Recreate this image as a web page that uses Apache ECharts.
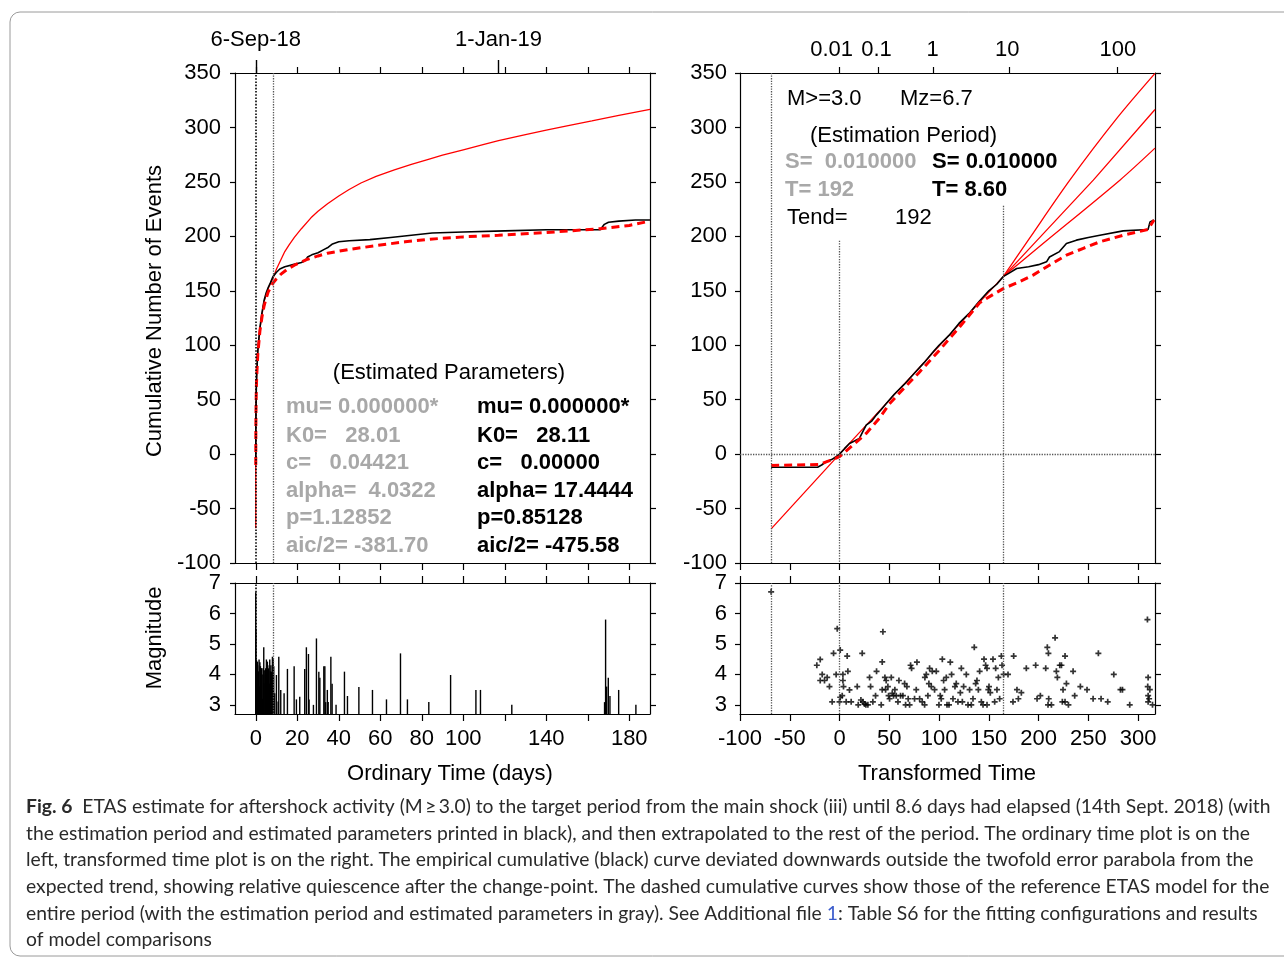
<!DOCTYPE html>
<html>
<head>
<meta charset="utf-8">
<script src="https://cdn.jsdelivr.net/npm/echarts@6/dist/echarts.min.js"></script>
<style>
  html, body { margin: 0; padding: 0; background: #fff; }
  #chart { width: 1284px; height: 960px; }
</style>
</head>
<body>
<div id="chart"></div>
<script>
// ---- axis ticks / labels ----
const ordTicks = [0, 20, 40, 60, 80, 100, 120, 140, 160, 180]
const ordLabels = [0, 20, 40, 60, 80, 100, 140, 180]
const dateTickDays = [0, 117]
const dateTickLabels = ['6-Sep-18', '1-Jan-19']
const trTicks = [-100, -50, 0, 50, 100, 150, 200, 250, 300]
const logTickPos = [0, 39.2, 94, 171, 279.5] // where 0.01..100 days fall on transformed time
const logLabelPos = [-8, 37.2, 93.6, 168.5, 279.7]
const logTickLabels = ['0.01', '0.1', '1', '10', '100']
const magTicks = [3, 4, 5, 6, 7]

// ---- ordinary time (days) cumulative curves ----
const obsOrd = [[0, -10], [0.005, -5], [0.01, 0], [0.05, 25], [0.1, 40], [0.3, 62], [0.5, 75], [1, 95], [1.5, 106], [2, 116], [3, 130], [4, 141], [5, 148], [6, 153], [7, 157], [8.3, 163], [10, 167], [11.6, 170], [14, 172], [18, 174], [22, 176], [24, 178], [25, 181], [27, 183], [30, 185], [33, 188], [35, 190], [37, 193], [40, 195], [45, 196], [55, 197], [65, 199], [75, 201], [85, 203], [100, 204], [120, 205], [140, 206], [166, 206], [168, 211], [170, 213], [175, 214], [183, 215], [190, 215]]
const refOrd = [[0, -10], [0.01, -2], [0.05, 22], [0.1, 38], [0.3, 62], [0.5, 73], [1, 92], [2, 113], [3, 126], [4, 136], [5, 143], [6, 149], [8.3, 157], [10, 161], [12, 165], [15, 169.5], [18.6, 173.5], [25, 179], [30, 182], [34.6, 184.5], [45, 188], [60, 192], [72, 195], [84, 197.4], [100, 199.5], [117, 201], [140, 203.5], [166, 207], [180, 210], [190, 214]]
const modelOrd = [[0, -68], [0.002, -40], [0.01, 0], [0.03, 22], [0.1, 39], [0.3, 65], [1, 94], [2, 115], [4, 140], [6, 152], [8.6, 163], [10, 170], [12, 178], [14, 186], [16, 192], [18.6, 199], [22, 207], [26.6, 217], [30, 223], [34.6, 230], [40, 237], [45, 243], [50.7, 249], [58, 255], [66.8, 261], [75, 266], [82.8, 270.5], [90, 274.5], [100, 279.5], [110, 284.5], [117, 288], [130, 293.5], [140, 297.5], [150, 301.5], [162, 306], [175, 311], [190, 316.5]]

// ---- transformed time cumulative curves ----
const obsTr = [[-68.7, -12], [-22, -12], [-18, -10], [-13.4, -7], [-8, -5], [-3.4, -2.4], [0, 0], [5, 5], [10, 9.8], [15, 12], [20, 14.4], [23, 20], [26.8, 26.6], [32, 30], [36.9, 35.8], [42, 41], [47, 46.5], [55, 55], [65, 64], [75, 74], [85, 84], [95, 95], [100, 100], [110, 109], [120, 120], [130, 129], [140, 140], [150, 150], [158, 156], [164.5, 163], [170, 166], [178, 170.5], [190, 172], [200, 174], [208, 176.6], [211, 181], [221, 186], [228, 193.5], [238, 196.5], [250, 199], [261.6, 201], [285, 205], [310, 206.3], [312, 213.3], [316, 215]]
const refTr = [[-68.7, -10.5], [-20, -9.5], [-10, -6], [0, -2.4], [13.4, 8.3], [26.8, 19], [40, 32.8], [50, 46], [60, 56], [80, 75], [100, 95], [120, 116], [140.8, 139], [155, 147], [164.5, 152], [180, 158], [194.5, 164.4], [210, 173], [228, 182.7], [245, 189], [261.6, 195], [285, 201], [310, 206.3], [316, 215]]
const modelTr = [[-68.7, -68.7], [0, 0], [164.5, 163]]
const upperTr = [[164.5, 163], [190, 197], [231.4, 251.6], [278, 307.6], [317, 349.6]]
const midTr = [[164.5, 163], [255, 251.6], [317, 316.5]]
const lowerTr = [[164.5, 163], [200, 190], [281.7, 251.6], [317, 281]]

// ---- magnitudes ----
const ordEvents = [[0, 6.7], [0.05, 5.5], [0.1, 4.4], [0.2, 3.9], [0.32, 4.47], [0.4, 4.1], [0.6, 3.5], [0.8, 4.42], [0.9, 4.3], [1.1, 3.8], [1.3, 4.1], [1.6, 4.49], [1.8, 3.6], [2.0, 4.4], [2.25, 4.27], [2.5, 3.9], [2.7, 4.2], [2.9, 4.2], [3.1, 4.0], [3.3, 3.2], [3.6, 4.2], [3.86, 4.89], [4.0, 3.7], [4.34, 4.14], [4.6, 4.0], [4.8, 4.2], [5.14, 4.49], [5.3, 3.9], [5.6, 4.42], [5.8, 4.3], [6.1, 4.2], [6.4, 3.6], [6.6, 3.7], [6.75, 4.49], [7.0, 4.1], [7.3, 4.3], [7.55, 4.09], [7.8, 3.9], [8.04, 4.58], [8.2, 4.2], [8.4, 4.5], [8.68, 4.27], [9.16, 3.38], [9.96, 3.98], [10.8, 3.11], [11.1, 4.58], [12.05, 3.49], [13.66, 3.38], [15.27, 4.18], [18.5, 4.27], [19.6, 3.18], [21.2, 3.27], [23.6, 4.18], [24.4, 4.89], [25.4, 4.67], [25.7, 3.18], [27.8, 3.0], [29.25, 5.18], [30.4, 4.09], [30.9, 3.89], [32.8, 4.27], [33.3, 4.27], [33.7, 3.09], [34.5, 3.49], [34.9, 3.09], [36.2, 4.58], [36.8, 3.69], [38.7, 3.0], [42.75, 4.09], [44.2, 3.29], [49.7, 3.59], [56.25, 3.49], [63, 3.18], [69.75, 4.69], [73.1, 3.18], [83.4, 3.09], [93.9, 3.98], [106.1, 3.49], [108.3, 3.49], [123.4, 3.0], [168.1, 3.09], [168.6, 5.8], [169.1, 3.6], [169.9, 3.89], [170.7, 3.29], [174.9, 3.49], [183.2, 3.0]]
const trEvents = [[-68.7, 6.71], [-22.8, 4.3], [-19.4, 4.49], [-17.4, 4.0], [-19.4, 3.8], [-15.1, 3.8], [-12.4, 3.9], [-10.1, 3.6], [-7.4, 3.1], [-6, 4.69], [-2.3, 5.5], [-3.4, 4.0], [0.7, 4.8], [0, 3.1], [0.7, 3.25], [2.7, 3.3], [3.4, 4.0], [4, 3.6], [3.4, 3.8], [7.7, 4.6], [8.4, 4.1], [6.7, 3.1], [10, 3.49], [11.7, 3.1], [17.8, 3.6], [18.8, 3.0], [21.5, 3.16], [22.8, 4.69], [23.5, 3.1], [25.1, 3.03], [26.5, 3.0], [28.5, 3.0], [30.2, 3.9], [31.2, 3.6], [33.5, 3.1], [36.2, 3.3], [37.2, 4.1], [41.9, 3.0], [42.9, 3.5], [42.9, 4.41], [43.6, 5.4], [45.6, 3.9], [46.3, 3.5], [46.9, 3.8], [48.6, 3.6], [49.3, 3.3], [50.3, 3.2], [52, 3.9], [53, 3.38], [54.3, 3.3], [55.6, 3.5], [57, 3.3], [58.7, 3.1], [59.7, 3.8], [61.3, 3.3], [63.7, 3.3], [65.4, 3.7], [66.4, 3.0], [67.7, 3.6], [69, 3.2], [70.4, 3.0], [71.4, 4.3], [72.4, 4.2], [75.4, 3.2], [77.8, 4.4], [77.1, 3.5], [80.5, 3.2], [83.1, 3.1], [85.5, 3.0], [85.8, 3.9], [87.2, 4.0], [88.8, 3.3], [89.8, 3.7], [90.5, 4.2], [92.2, 3.6], [93.2, 4.1], [95.5, 3.5], [97.2, 4.1], [99.9, 3.0], [101.2, 3.3], [102.2, 3.2], [103.3, 4.5], [104.6, 3.8], [105.6, 3.5], [107.3, 3.9], [108, 3.0], [110, 3.0], [111.3, 4.4], [112.6, 4.0], [114, 3.2], [116, 3.6], [117.3, 3.7], [119, 3.1], [121.4, 3.4], [122.4, 4.2], [123.4, 3.1], [124.7, 3.6], [127.4, 4.0], [129.1, 3.0], [130.7, 3.5], [132.4, 3.0], [134.1, 3.2], [135.4, 4.89], [136.8, 3.7], [138.1, 3.8], [139.5, 3.5], [140.8, 4.1], [142.5, 3.1], [144.2, 3.0], [145.2, 4.5], [146.8, 4.3], [148.2, 4.2], [148.2, 3.0], [149.5, 3.5], [150.2, 3.6], [151.5, 3.4], [154.2, 4.5], [155.9, 3.1], [156.9, 4.2], [158.2, 3.5], [159.6, 3.9], [160.9, 3.2], [162.6, 4.6], [163.3, 4.3], [164.9, 4.0], [169.3, 4.0], [174.3, 3.1], [175, 4.6], [178.3, 3.5], [179.7, 3.2], [182.7, 3.4], [187.7, 4.2], [197.1, 4.3], [198.5, 3.2], [201.8, 3.3], [207.2, 4.2], [208.8, 4.89], [209.9, 4.69], [210.2, 3.2], [209.5, 3.0], [212.9, 3.0], [216.6, 5.2], [217.9, 4.1], [218.9, 3.9], [221.3, 4.3], [223, 4.3], [223.9, 3.1], [224.6, 3.5], [226.6, 3.1], [226.6, 4.6], [228, 3.7], [230, 3.0], [234.7, 4.1], [236.3, 3.3], [242, 3.6], [248.7, 3.5], [254.8, 3.2], [260.1, 4.69], [262.8, 3.2], [269.5, 3.1], [275.6, 4.0], [282.3, 3.5], [284.3, 3.5], [291.6, 3.0], [309.4, 5.8], [310.1, 3.9], [309.7, 3.6], [310.1, 3.3], [310.1, 3.1], [311.1, 3.2], [311.8, 3.5], [314.5, 3.0]]

const magMin = 2.7
const FONT = 'Liberation Sans'
const RED = '#ff0000'

const chart = echarts.init(document.getElementById('chart'), null, { renderer: 'canvas' })

function tickAxis (opt) { // axis with box line, outward ticks, no grid lines
  return Object.assign({
    type: 'value',
    axisLine: { show: true, onZero: false, lineStyle: { color: '#000', width: 1.2 } },
    axisTick: { show: true, inside: false, length: 6, lineStyle: { color: '#000', width: 1.2 } },
    axisLabel: { show: false },
    splitLine: { show: false }
  }, opt)
}
const lbl = { color: '#000', fontSize: 22, fontFamily: FONT }

function stem (params, api) {
  const top = api.coord([api.value(0), api.value(1)])
  const base = api.coord([api.value(0), magMin])
  return {
    type: 'line',
    shape: { x1: top[0], y1: top[1], x2: base[0], y2: base[1] },
    style: { stroke: '#000', lineWidth: 1.4 }
  }
}

function vlines (items) { // dotted reference lines
  return {
    symbol: ['none', 'none'],
    silent: true,
    label: { show: false },
    animation: false,
    lineStyle: { type: 'dotted', width: 1.3, color: '#555' },
    data: items
  }
}

function text (x, y, str, opt) {
  return {
    type: 'text',
    x: x,
    y: y,
    silent: true,
    rotation: (opt && opt.rotation) || 0,
    style: Object.assign({
      text: str,
      fontSize: 22,
      fontFamily: FONT,
      fill: '#000',
      align: 'left',
      textAlign: 'left',
      verticalAlign: 'middle',
      textVerticalAlign: 'middle'
    }, opt && opt.style)
  }
}
const gray = { fill: '#a8a8a8', fontWeight: 'bold' }
const bold = { fontWeight: 'bold' }
const center = { align: 'center', textAlign: 'center' }

const capSize = 19.3
const capStyle = { fontSize: capSize, fontFamily: 'Lato', fill: '#2a2a2a', rich: { b: { fontWeight: 'bold', fontSize: capSize, fontFamily: 'Lato', fill: '#2a2a2a' }, l: { fontSize: capSize, fontFamily: 'Lato', fill: '#3a5bcc' } } }
const captionLines = [
  '{b|Fig. 6}  ETAS estimate for aftershock activity (M\u2009\u2265\u20093.0) to the target period from the main shock (iii) until 8.6 days had elapsed (14th Sept. 2018) (with',
  'the estimation period and estimated parameters printed in black), and then extrapolated to the rest of the period. The ordinary time plot is on the',
  'left, transformed time plot is on the right. The empirical cumulative (black) curve deviated downwards outside the twofold error parabola from the',
  'expected trend, showing relative quiescence after the change-point. The dashed cumulative curves show those of the reference ETAS model for the',
  'entire period (with the estimation period and estimated parameters in gray). See Additional file {l|1}: Table S6 for the fitting configurations and results',
  'of model comparisons'
]
const captionY = [807, 834, 860, 887, 914, 940]

const option = {
  animation: false,
  backgroundColor: '#fff',
  grid: [
    { left: 235, top: 73, width: 415, height: 490, outerBoundsMode: 'none' },
    { left: 235, top: 583, width: 415, height: 131, outerBoundsMode: 'none' },
    { left: 740, top: 73, width: 415, height: 490, outerBoundsMode: 'none' },
    { left: 740, top: 583, width: 415, height: 131, outerBoundsMode: 'none' }
  ],
  xAxis: [
    tickAxis({ gridIndex: 0, position: 'bottom', min: -10, max: 190, axisTick: { show: true, length: 7, customValues: ordTicks, lineStyle: { color: '#000', width: 1.2 } } }),
    tickAxis({ gridIndex: 0, position: 'top', min: -10, max: 190, axisTick: { show: true, length: 6, customValues: ordTicks, lineStyle: { color: '#000', width: 1.2 } } }),
    tickAxis({
      gridIndex: 0,
      position: 'top',
      min: -10,
      max: 190,
      axisLine: { show: false, onZero: false },
      axisTick: { show: true, length: 13, customValues: dateTickDays, lineStyle: { color: '#000', width: 1.4 } },
      axisLabel: Object.assign({ show: true, margin: 22, customValues: dateTickDays, formatter: v => dateTickLabels[dateTickDays.indexOf(v)] }, lbl)
    }),
    tickAxis({
      gridIndex: 1,
      position: 'bottom',
      min: -10,
      max: 190,
      axisTick: { show: true, length: 7, customValues: ordTicks, lineStyle: { color: '#000', width: 1.2 } },
      axisLabel: Object.assign({ show: true, margin: 14, customValues: ordLabels }, lbl)
    }),
    tickAxis({ gridIndex: 1, position: 'top', min: -10, max: 190, axisTick: { show: true, length: 7, customValues: ordTicks, lineStyle: { color: '#000', width: 1.2 } } }),
    tickAxis({ gridIndex: 2, position: 'bottom', min: -100, max: 317, axisTick: { show: true, length: 7, customValues: trTicks, lineStyle: { color: '#000', width: 1.2 } } }),
    tickAxis({
      gridIndex: 2,
      position: 'top',
      min: -100,
      max: 317,
      axisTick: { show: true, length: 6, customValues: logTickPos, lineStyle: { color: '#000', width: 1.2 } },
      axisLabel: Object.assign({ show: true, margin: 12, customValues: logLabelPos, formatter: v => logTickLabels[logLabelPos.indexOf(v)] }, lbl)
    }),
    tickAxis({
      gridIndex: 3,
      position: 'bottom',
      min: -100,
      max: 317,
      axisTick: { show: true, length: 7, customValues: trTicks, lineStyle: { color: '#000', width: 1.2 } },
      axisLabel: Object.assign({ show: true, margin: 14, customValues: trTicks }, lbl)
    }),
    tickAxis({ gridIndex: 3, position: 'top', min: -100, max: 317, axisTick: { show: true, length: 7, customValues: trTicks, lineStyle: { color: '#000', width: 1.2 } } })
  ],
  yAxis: [
    tickAxis({ gridIndex: 0, position: 'left', min: -100, max: 350, interval: 50, axisTick: { show: true, length: 5, lineStyle: { color: '#000', width: 1.2 } }, axisLabel: Object.assign({ show: true, margin: 14 }, lbl) }),
    tickAxis({ gridIndex: 0, position: 'right', min: -100, max: 350, interval: 50 }),
    tickAxis({ gridIndex: 1, position: 'left', min: magMin, max: 7, axisTick: { show: true, length: 5, customValues: magTicks, lineStyle: { color: '#000', width: 1.2 } }, axisLabel: Object.assign({ show: true, margin: 14, customValues: magTicks }, lbl) }),
    tickAxis({ gridIndex: 1, position: 'right', min: magMin, max: 7, axisTick: { show: true, length: 6, customValues: magTicks, lineStyle: { color: '#000', width: 1.2 } } }),
    tickAxis({ gridIndex: 2, position: 'left', min: -100, max: 350, interval: 50, axisTick: { show: true, length: 5, lineStyle: { color: '#000', width: 1.2 } }, axisLabel: Object.assign({ show: true, margin: 13 }, lbl) }),
    tickAxis({ gridIndex: 2, position: 'right', min: -100, max: 350, interval: 50 }),
    tickAxis({ gridIndex: 3, position: 'left', min: magMin, max: 7, axisTick: { show: true, length: 5, customValues: magTicks, lineStyle: { color: '#000', width: 1.2 } }, axisLabel: Object.assign({ show: true, margin: 13, customValues: magTicks }, lbl) }),
    tickAxis({ gridIndex: 3, position: 'right', min: magMin, max: 7, axisTick: { show: true, length: 6, customValues: magTicks, lineStyle: { color: '#000', width: 1.2 } } })
  ],
  series: [
    // ordinary time, cumulative
    { type: 'line', xAxisIndex: 0, yAxisIndex: 0, data: modelOrd, symbol: 'none', lineStyle: { color: RED, width: 1.3 },
      markLine: vlines([{ xAxis: 0, lineStyle: { color: '#000', width: 1.6 } }, { xAxis: 8.6 }]) },
    { type: 'line', xAxisIndex: 0, yAxisIndex: 0, data: obsOrd, symbol: 'none', lineStyle: { color: '#000', width: 1.6 } },
    { type: 'line', xAxisIndex: 0, yAxisIndex: 0, data: refOrd, symbol: 'none', lineStyle: { color: RED, width: 3, type: [8, 5] } },
    // ordinary time, magnitude stems
    { type: 'custom', xAxisIndex: 3, yAxisIndex: 2, data: ordEvents, encode: { x: 0, y: 1 }, renderItem: stem, clip: true },
    { type: 'line', xAxisIndex: 3, yAxisIndex: 2, data: [], symbol: 'none',
      markLine: vlines([{ xAxis: 0, lineStyle: { color: '#000', width: 1.6 } }, { xAxis: 8.6 }]) },
    // transformed time, cumulative
    { type: 'line', xAxisIndex: 5, yAxisIndex: 4, data: modelTr, symbol: 'none', lineStyle: { color: RED, width: 1.3 },
      markLine: vlines([
        { xAxis: -68.7 },
        [{ coord: [0, 196] }, { coord: [0, -100] }],
        [{ coord: [164.5, 228] }, { coord: [164.5, -100] }],
        { yAxis: 0 }
      ]) },
    { type: 'line', xAxisIndex: 5, yAxisIndex: 4, data: upperTr, symbol: 'none', smooth: 0.3, lineStyle: { color: RED, width: 1.3 } },
    { type: 'line', xAxisIndex: 5, yAxisIndex: 4, data: midTr, symbol: 'none', lineStyle: { color: RED, width: 1.3 } },
    { type: 'line', xAxisIndex: 5, yAxisIndex: 4, data: lowerTr, symbol: 'none', smooth: 0.3, lineStyle: { color: RED, width: 1.3 } },
    { type: 'line', xAxisIndex: 5, yAxisIndex: 4, data: obsTr, symbol: 'none', lineStyle: { color: '#000', width: 1.6 } },
    { type: 'line', xAxisIndex: 5, yAxisIndex: 4, data: refTr, symbol: 'none', lineStyle: { color: RED, width: 3, type: [8, 5] } },
    // transformed time, magnitude scatter
    { type: 'scatter', xAxisIndex: 7, yAxisIndex: 6, data: trEvents, symbol: 'path://M2.5,0h2v2.5h2.5v2h-2.5v2.5h-2v-2.5h-2.5v-2h2.5z', symbolSize: 6, itemStyle: { color: '#000' },
      markLine: vlines([{ xAxis: -68.7 }, { xAxis: 0 }, { xAxis: 164.5 }]) }
  ],
  graphic: [
    { type: 'rect', silent: true, shape: { x: 10, y: 12, width: 1300, height: 944, r: 10 }, style: { fill: 'none', stroke: '#9a9a9a', lineWidth: 1 } },
    text(155, 311, 'Cumulative Number of Events', { rotation: Math.PI / 2, style: center }),
    text(155, 638, 'Magnitude', { rotation: Math.PI / 2, style: center }),
    text(450, 774, 'Ordinary Time (days)', { style: center }),
    text(947, 774, 'Transformed Time', { style: center }),
    // estimated parameters
    text(449, 373, '(Estimated Parameters)', { style: center }),
    text(286, 407, 'mu= 0.000000*', { style: gray }),
    text(286, 436, 'K0=   28.01', { style: gray }),
    text(286, 463, 'c=   0.04421', { style: gray }),
    text(286, 491, 'alpha=  4.0322', { style: gray }),
    text(286, 518, 'p=1.12852', { style: gray }),
    text(286, 546, 'aic/2= -381.70', { style: gray }),
    text(477, 407, 'mu= 0.000000*', { style: bold }),
    text(477, 436, 'K0=   28.11', { style: bold }),
    text(477, 463, 'c=   0.00000', { style: bold }),
    text(477, 491, 'alpha= 17.4444', { style: bold }),
    text(477, 518, 'p=0.85128', { style: bold }),
    text(477, 546, 'aic/2= -475.58', { style: bold }),
    // estimation period
    text(787, 99, 'M>=3.0'),
    text(900, 99, 'Mz=6.7'),
    text(810, 136, '(Estimation Period)'),
    text(785, 162, 'S=  0.010000', { style: gray }),
    text(932, 162, 'S= 0.010000', { style: bold }),
    text(785, 190, 'T= 192', { style: gray }),
    text(932, 190, 'T= 8.60', { style: bold }),
    text(787, 218, 'Tend='),
    text(895, 218, '192')
  ].concat(captionLines.map((s, i) => text(26, captionY[i], s, { style: capStyle })))
}

chart.setOption(option)
</script>
</body>
</html>
